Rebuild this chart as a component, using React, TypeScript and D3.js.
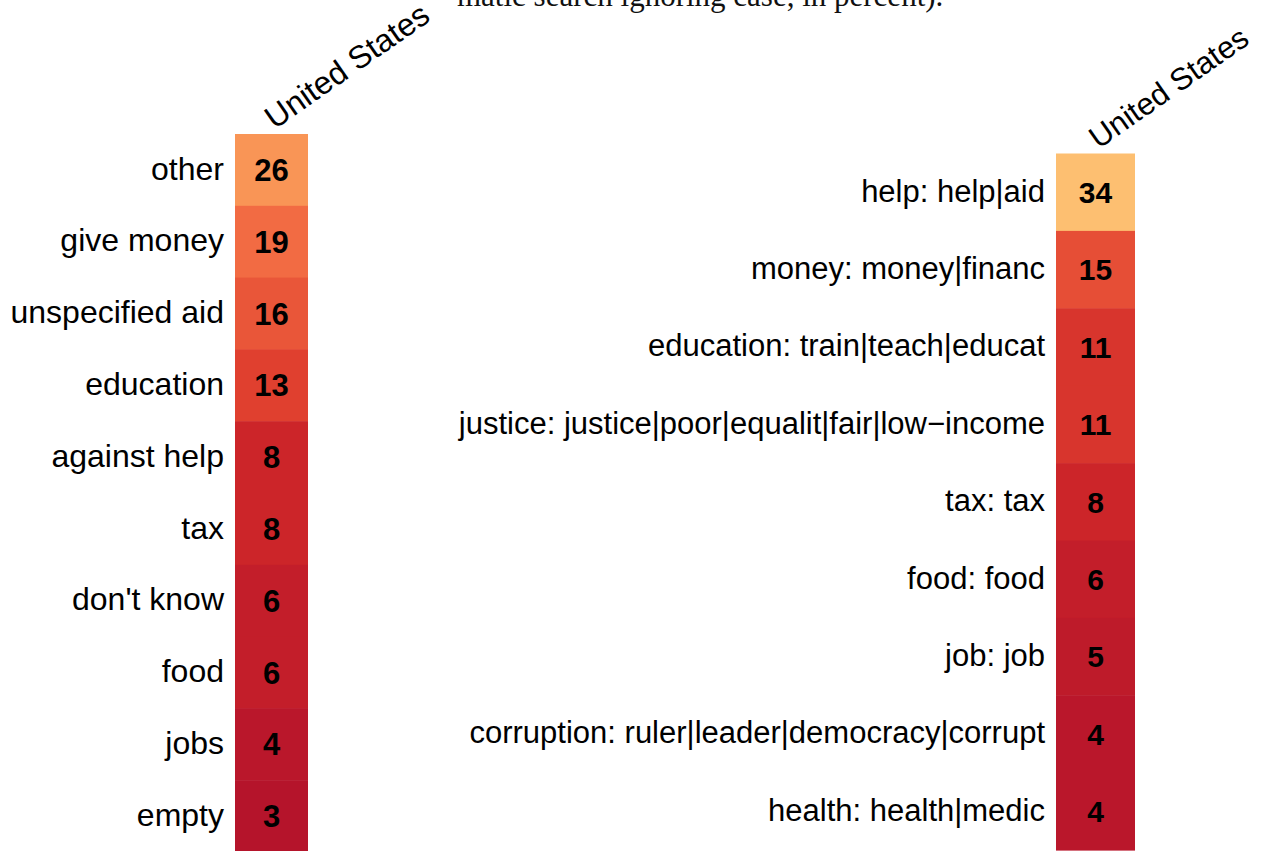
import React from "react";
import * as d3 from "d3";

const leftCategories = [
  "other",
  "give money",
  "unspecified aid",
  "education",
  "against help",
  "tax",
  "don't know",
  "food",
  "jobs",
  "empty",
];
const leftValues = [26, 19, 16, 13, 8, 8, 6, 6, 4, 3];

const rightCategories = [
  "help: help|aid",
  "money: money|financ",
  "education: train|teach|educat",
  "justice: justice|poor|equalit|fair|low\u2212income",
  "tax: tax",
  "food: food",
  "job: job",
  "corruption: ruler|leader|democracy|corrupt",
  "health: health|medic",
];
const rightValues = [34, 15, 11, 11, 8, 6, 5, 4, 4];

const columnLabel = "United States";
const captionFragment = "matic search ignoring case, in percent).";

const colorStops = [3, 8, 13, 19, 26, 34];
const colorRange = ["#b5142b", "#cc2529", "#e0402f", "#f26b43", "#f99556", "#fdbf71"];

const W = 1263;
const H = 851;
const FONT = "'Liberation Sans', Arial, Helvetica, sans-serif";

type PanelProps = {
  categories: string[];
  values: number[];
  x0: number;
  x1: number;
  y0: number;
  rowH: number;
  labelSize: number;
  numSize: number;
  headSize: number;
};

function Panel({ categories, values, x0, x1, y0, rowH, labelSize, numSize, headSize }: PanelProps) {
  const y = d3
    .scaleBand<string>()
    .domain(categories)
    .range([y0, y0 + rowH * categories.length])
    .paddingInner(0)
    .paddingOuter(0);
  const color = d3
    .scaleLinear<string>()
    .domain(colorStops)
    .range(colorRange)
    .interpolate(d3.interpolateRgb);
  const cx = (x0 + x1) / 2;
  return (
    <g>
      {categories.map((c, i) => {
        const top = y(c)!;
        const mid = top + y.bandwidth() / 2;
        return (
          <g key={c}>
            <rect
              x={x0}
              y={top}
              width={x1 - x0}
              height={y.bandwidth() + 0.5}
              fill={color(values[i])}
            />
            <text
              x={cx}
              y={mid}
              dy="0.36em"
              textAnchor="middle"
              fontFamily={FONT}
              fontWeight="bold"
              fontSize={numSize}
              fill="#000"
            >
              {values[i]}
            </text>
            <text
              x={x0 - 11}
              y={mid}
              dy="0.3em"
              textAnchor="end"
              fontFamily={FONT}
              fontSize={labelSize}
              fill="#000"
            >
              {c}
            </text>
          </g>
        );
      })}
      <text
        transform={`translate(${cx + 3},${y0 - 4}) rotate(-35)`}
        fontFamily={FONT}
        fontSize={headSize}
        fill="#000"
      >
        {columnLabel}
      </text>
    </g>
  );
}

export default function App() {
  return (
    <svg
      width={W}
      height={H}
      viewBox={`0 0 ${W} ${H}`}
      style={{ position: "absolute", left: 0, top: 0, background: "#fff" }}
    >
      <rect x={0} y={0} width={W} height={H} fill="#fff" />
      <text
        x={457}
        y={6}
        fontFamily="'Liberation Serif', 'DejaVu Serif', serif"
        fontSize={31}
        fill="#111"
      >
        {captionFragment}
      </text>
      <Panel
        categories={leftCategories}
        values={leftValues}
        x0={235}
        x1={308}
        y0={134}
        rowH={71.8}
        labelSize={32}
        numSize={31}
        headSize={32}
      />
      <Panel
        categories={rightCategories}
        values={rightValues}
        x0={1056}
        x1={1135}
        y0={153.5}
        rowH={77.4}
        labelSize={31}
        numSize={30}
        headSize={31}
      />
    </svg>
  );
}
